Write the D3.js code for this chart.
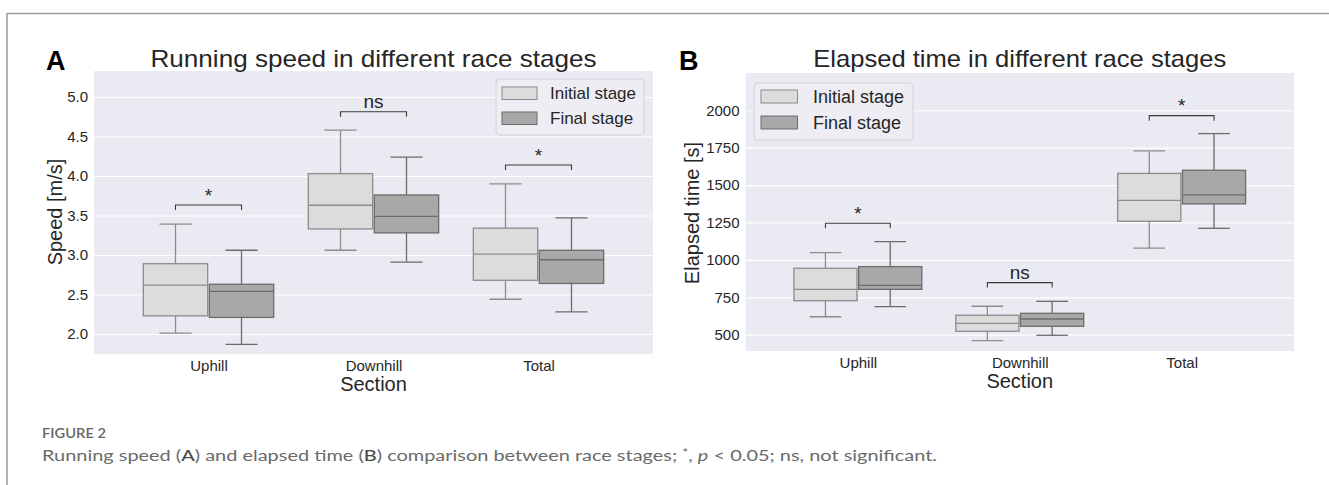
<!DOCTYPE html>
<html><head><meta charset="utf-8">
<script src="https://cdn.jsdelivr.net/npm/d3@7"></script>
<style>
html,body{margin:0;padding:0;background:#fff;}
svg{display:block;}
</style></head>
<body>
<svg id="fig" width="1329" height="485"></svg>
<script>
// ---------- data ----------
const categories = ["Uphill", "Downhill", "Total"];
const stages = ["Initial stage", "Final stage"];
// five-number summaries [min, q1, median, q3, max]
const speedInitial = [[2.01, 2.23, 2.62, 2.89, 3.39], [3.06, 3.33, 3.63, 4.03, 4.58], [2.44, 2.68, 3.01, 3.34, 3.90]];
const speedFinal   = [[1.87, 2.21, 2.54, 2.63, 3.06], [2.91, 3.28, 3.49, 3.76, 4.24], [2.28, 2.64, 2.94, 3.06, 3.47]];
const timeInitial  = [[620, 727, 803, 944, 1048], [460, 523, 576, 630, 690], [1078, 1258, 1398, 1578, 1728]];
const timeFinal    = [[687, 803, 830, 955, 1122], [496, 556, 605, 643, 723], [1211, 1374, 1434, 1599, 1844]];
const speedTicks = [2.0, 2.5, 3.0, 3.5, 4.0, 4.5, 5.0];
const timeTicks = [500, 750, 1000, 1250, 1500, 1750, 2000];
const speedSig = ["*", "ns", "*"];
const speedSigLevel = [3.633, 4.814, 4.139];
const timeSig = ["*", "ns", "*"];
const timeSigLevel = [1245, 848, 1964];

const svg = d3.select("#fig");
const FONT = "'Liberation Sans', Arial, sans-serif";
const TXT = "#262626";
const fills = ["#DCDCDC", "#A8A8A8"];
const lines = ["#8C8C8C", "#6C6C6C"];

// frame
svg.append("line").attr("x1", 7).attr("x2", 1329).attr("y1", 13.5).attr("y2", 13.5).attr("stroke", "#9a9a9a").attr("stroke-width", 1.5);
svg.append("line").attr("x1", 7).attr("x2", 7).attr("y1", 13).attr("y2", 485).attr("stroke", "#9a9a9a").attr("stroke-width", 1.5);

function panel(cfg) {
  const g = svg.append("g");
  const {L, R, T, B} = cfg;
  const x = d3.scaleLinear().domain([-0.694, 2.694]).range([L, R]);
  const y = d3.scaleLinear().domain(cfg.yDomain).range([B, T]);

  g.append("rect").attr("x", L).attr("y", T).attr("width", R - L).attr("height", B - T).attr("fill", "#EAEAF2");

  // grid
  const grid = g.append("g").attr("transform", `translate(${L},0)`)
    .call(d3.axisLeft(y).tickValues(cfg.ticks).tickSize(-(R - L)).tickFormat(""));
  grid.select(".domain").remove();
  grid.selectAll("line").attr("stroke", "#ffffff").attr("stroke-width", 1.2);

  // y axis labels
  const ya = g.append("g").attr("transform", `translate(${L},0)`)
    .call(d3.axisLeft(y).tickValues(cfg.ticks).tickSize(0).tickPadding(6).tickFormat(cfg.fmt));
  ya.select(".domain").remove();
  ya.selectAll("text").attr("font-family", FONT).attr("font-size", 15).attr("fill", TXT);

  // x axis labels
  const xa = g.append("g").attr("transform", `translate(0,${B})`)
    .call(d3.axisBottom(x).tickValues([0, 1, 2]).tickSize(0).tickPadding(6).tickFormat(i => categories[i]));
  xa.select(".domain").remove();
  xa.selectAll("text").attr("font-family", FONT).attr("font-size", 15).attr("fill", TXT);

  // boxes
  [cfg.initial, cfg.final].forEach((series, s) => {
    series.forEach((d, i) => {
      const off = s === 0 ? -0.2 : 0.2;
      const c = x(i + off);
      const x0 = x(i + off - 0.195), x1 = x(i + off + 0.195);
      const cap0 = x(i + off - 0.0975), cap1 = x(i + off + 0.0975);
      const bg = g.append("g").attr("stroke", lines[s]).attr("stroke-width", 1.3).attr("fill", "none");
      bg.append("line").attr("x1", c).attr("x2", c).attr("y1", y(d[3])).attr("y2", y(d[4]));
      bg.append("line").attr("x1", c).attr("x2", c).attr("y1", y(d[1])).attr("y2", y(d[0]));
      bg.append("line").attr("x1", cap0).attr("x2", cap1).attr("y1", y(d[4])).attr("y2", y(d[4]));
      bg.append("line").attr("x1", cap0).attr("x2", cap1).attr("y1", y(d[0])).attr("y2", y(d[0]));
      bg.append("rect").attr("x", x0).attr("y", y(d[3])).attr("width", x1 - x0).attr("height", y(d[1]) - y(d[3]))
        .attr("fill", fills[s]);
      bg.append("line").attr("x1", x0).attr("x2", x1).attr("y1", y(d[2])).attr("y2", y(d[2]));
    });
  });

  // significance brackets
  cfg.sig.forEach((lab, i) => {
    const yy = y(cfg.sigLevel[i]);
    const a = x(i - 0.2), b = x(i + 0.2);
    g.append("path").attr("d", `M${a},${yy + 5}V${yy}H${b}V${yy + 5}`)
      .attr("fill", "none").attr("stroke", "#3a3a3a").attr("stroke-width", 1.1);
    g.append("text").attr("x", (a + b) / 2).attr("y", yy - 3.4).attr("text-anchor", "middle")
      .attr("font-family", FONT).attr("font-size", 19).attr("fill", TXT).text(lab);
  });

  // legend
  const lg = g.append("g");
  lg.append("rect").attr("x", cfg.leg.x).attr("y", cfg.leg.y).attr("width", cfg.leg.w).attr("height", cfg.leg.h)
    .attr("rx", 4).attr("fill", "#EDEDF3").attr("stroke", "#D2D2D8").attr("stroke-width", 1);
  stages.forEach((st, s) => {
    const py = cfg.leg.py[s];
    lg.append("rect").attr("x", cfg.leg.px).attr("y", py).attr("width", cfg.leg.pw).attr("height", cfg.leg.ph)
      .attr("fill", fills[s]).attr("stroke", lines[s]).attr("stroke-width", 1);
    lg.append("text").attr("x", cfg.leg.tx).attr("y", py + cfg.leg.ph / 2).attr("dy", "0.36em")
      .attr("font-family", FONT).attr("font-size", cfg.leg.fs).attr("fill", TXT).text(st);
  });

  // title, panel letter, axis titles
  g.append("text").attr("x", (L + R) / 2).attr("y", cfg.titleY).attr("text-anchor", "middle")
    .attr("font-family", FONT).attr("font-size", 24).attr("fill", TXT)
    .attr("textLength", cfg.titleW).attr("lengthAdjust", "spacingAndGlyphs").text(cfg.title);
  g.append("text").attr("x", cfg.letterX).attr("y", 70).attr("font-family", FONT).attr("font-weight", "bold")
    .attr("font-size", 27).attr("fill", "#000").text(cfg.letter);
  g.append("text").attr("x", (L + R) / 2).attr("y", cfg.xtY).attr("text-anchor", "middle")
    .attr("font-family", FONT).attr("font-size", 20).attr("fill", TXT).text("Section");
  g.append("text").attr("transform", `translate(${cfg.ylX},${cfg.ylY}) rotate(-90)`).attr("text-anchor", "middle")
    .attr("dy", "0.36em").attr("font-family", FONT).attr("font-size", 20).attr("fill", TXT).text(cfg.ylabel);
}

panel({
  L: 94, R: 653, T: 71, B: 354, yDomain: [1.747, 5.329], ticks: speedTicks, fmt: d3.format(".1f"),
  initial: speedInitial, final: speedFinal, sig: speedSig, sigLevel: speedSigLevel,
  leg: {x: 496, y: 79, w: 148, h: 56, px: 502, pw: 35, ph: 12.5, py: [87, 112], tx: 550, fs: 17},
  title: "Running speed in different race stages", titleW: 446, titleY: 67, letter: "A", letterX: 46,
  xtY: 391, ylabel: "Speed [m/s]", ylX: 55, ylY: 212
});
panel({
  L: 745.5, R: 1294, T: 73, B: 351, yDomain: [391, 2249], ticks: timeTicks, fmt: d3.format("d"),
  initial: timeInitial, final: timeFinal, sig: timeSig, sigLevel: timeSigLevel,
  leg: {x: 754, y: 83, w: 159, h: 57, px: 761, pw: 36.5, ph: 13, py: [90, 116], tx: 813, fs: 18},
  title: "Elapsed time in different race stages", titleW: 413, titleY: 67, letter: "B", letterX: 679,
  xtY: 388, ylabel: "Elapsed time [s]", ylX: 692, ylY: 213
});

// caption
const CF = "Lato, 'Open Sans', sans-serif";
svg.append("text").attr("x", 42).attr("y", 438).attr("font-family", CF).attr("font-size", 13.5)
  .attr("font-weight", 600).attr("fill", "#666").attr("textLength", 64).attr("lengthAdjust", "spacingAndGlyphs").text("FIGURE 2");
const cap = svg.append("text").attr("x", 42).attr("y", 461).attr("font-family", CF).attr("font-size", 15.5)
  .attr("fill", "#6a6a6a").attr("textLength", 895).attr("lengthAdjust", "spacingAndGlyphs");
cap.append("tspan").text("Running speed (");
cap.append("tspan").attr("fill", "#4a4a4a").attr("font-weight", 500).text("A");
cap.append("tspan").text(") and elapsed time (");
cap.append("tspan").attr("fill", "#4a4a4a").attr("font-weight", 500).text("B");
cap.append("tspan").text(") comparison between race stages; ");
cap.append("tspan").attr("font-size", 11).attr("dy", -4).text("*");
cap.append("tspan").attr("dy", 4).text(", ");
cap.append("tspan").attr("font-style", "italic").text("p");
cap.append("tspan").text(" < 0.05; ns, not significant.");
</script>
</body></html>
